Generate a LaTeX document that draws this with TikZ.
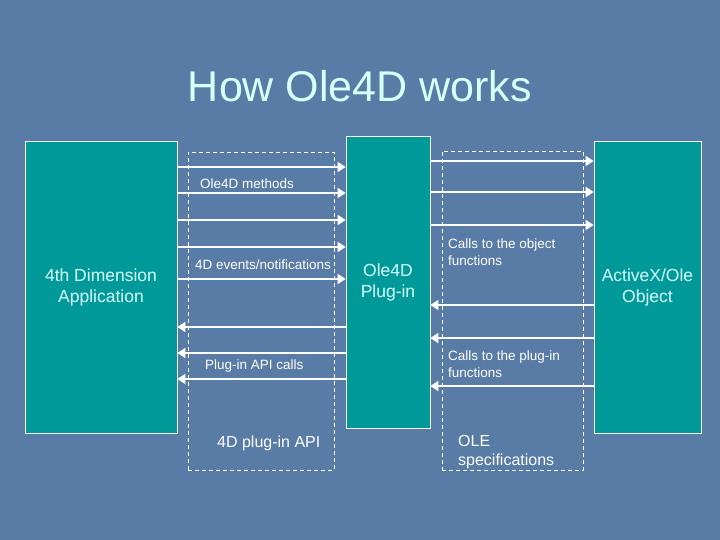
\documentclass[tikz,border=0pt]{standalone}
\usepackage{fontspec}
\setmainfont{Liberation Sans}
\usetikzlibrary{arrows.meta}
\definecolor{slidebg}{RGB}{88,124,166}
\definecolor{boxteal}{RGB}{0,153,153}
\definecolor{paletext}{RGB}{215,255,255}
\begin{document}
\begin{tikzpicture}[x=1pt,y=-1pt,>={Triangle[length=8pt,width=10pt]}]
\tikzstyle{every node}=[inner sep=0pt]
\tikzstyle{block}=[draw=white,line width=0.8pt,fill=boxteal,text=paletext,font=\fontsize{17.5}{21}\selectfont,align=center]
\tikzstyle{zone}=[draw=white,line width=0.8pt,dash pattern=on 4pt off 3pt]
\tikzstyle{flow}=[draw=white,line width=1.8pt,->]
\tikzstyle{note}=[text=white,font=\fontsize{13.5}{17}\selectfont,align=left,anchor=west]
\tikzstyle{bignote}=[note,font=\fontsize{16}{19}\selectfont]
\fill[slidebg] (0,0) rectangle (720,540);
\node[text=paletext,font=\fontsize{43}{50}\selectfont](title) at (360,86) {How Ole4D works};
% dashed zones
\node[zone,minimum width=146pt,minimum height=318pt](api) at (261,311) {};
\node[zone,minimum width=141pt,minimum height=319pt](ole) at (512.5,310.5) {};
% blocks
\node[block,minimum width=152pt,minimum height=292pt](app) at (101,287) {4th Dimension\\Application};
\node[block,minimum width=84pt,minimum height=292pt](plug) at (388,282) {Ole4D\\Plug-in};
\node[block,minimum width=107pt,minimum height=292pt](axo) at (647.5,287) {ActiveX/Ole\\Object};
% calls
\foreach \y in {167,193,220,247,279}
  \draw[flow] (app.east |- 0,\y) -- (plug.west |- 0,\y);
\foreach \y in {327,353,379}
  \draw[flow] (plug.west |- 0,\y) -- (app.east |- 0,\y);
\foreach \y in {161,192,225}
  \draw[flow] (plug.east |- 0,\y) -- (axo.west |- 0,\y);
\foreach \y in {305,338,386}
  \draw[flow] (axo.west |- 0,\y) -- (plug.east |- 0,\y);
% labels
\node[note](meth) at (200,184) {Ole4D methods};
\node[note](evts) at (195,265) {4D events/notifications};
\node[note](apic) at (205,366) {Plug-in API calls};
\node[note](objc) at (448,252) {Calls to the object\\functions};
\node[note](plgc) at (448,364) {Calls to the plug-in\\functions};
\node[bignote](apin) at (217,443) {4D plug-in API};
\node[bignote](olesp) at (458,452) {OLE\\specifications};
\end{tikzpicture}
\end{document}
